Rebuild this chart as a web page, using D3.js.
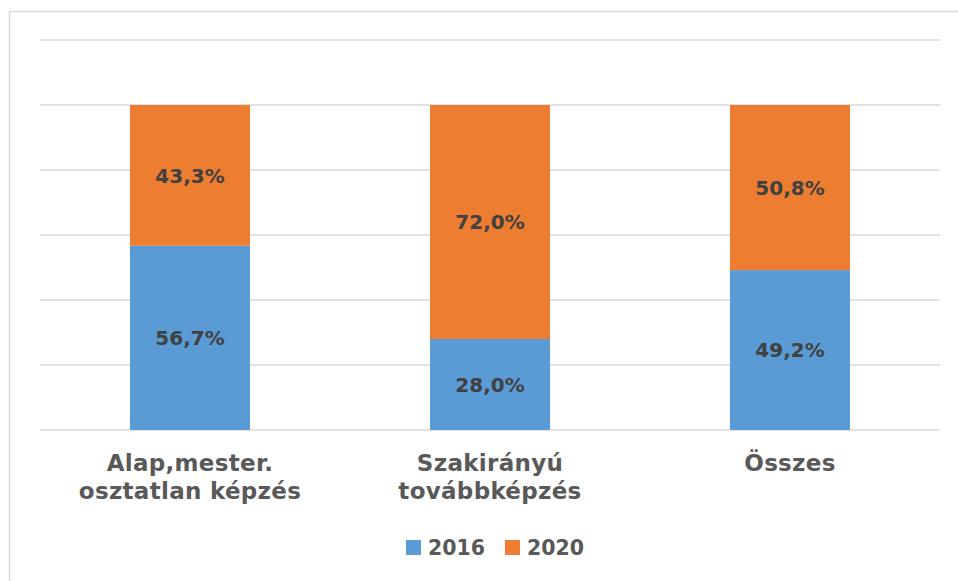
<!DOCTYPE html>
<html>
<head>
<meta charset="utf-8">
<script src="https://cdn.jsdelivr.net/npm/d3@7"></script>
<style>
  body { margin: 0; background: #fff; }
  text { font-family: "DejaVu Sans", Verdana, sans-serif; font-weight: bold; }
</style>
</head>
<body>
<div id="chart"></div>
<script>
// categories and series (share of participants, %)
let categories = [["Alap,mester.", "osztatlan képzés"], ["Szakirányú", "továbbképzés"], ["Összes"]];
let values2016 = [56.7, 28.0, 49.2];
let values2020 = [43.3, 72.0, 50.8];
let seriesNames = ["2016", "2020"];
let seriesColors = ["#5b9bd5", "#ed7d31"];
let gridTicks = [0, 20, 40, 60, 80, 100, 120];

let width = 958, height = 581;
let plot = {left: 40, right: 940, top: 40, bottom: 430};

let svg = d3.select("#chart").append("svg")
    .attr("width", width)
    .attr("height", height);

// chart frame (only left + top visible in crop)
svg.append("rect")
    .attr("x", 9.5).attr("y", 11.5)
    .attr("width", 1000).attr("height", 1000)
    .attr("fill", "none")
    .attr("stroke", "#d9d9d9")
    .attr("stroke-width", 1.5);

let x = d3.scaleBand()
    .domain(d3.range(categories.length))
    .range([plot.left, plot.right])
    .paddingInner(0.6)
    .paddingOuter(0.3);

let y = d3.scaleLinear()
    .domain([0, 120])
    .range([plot.bottom, plot.top]);

// grid lines
svg.append("g").selectAll("line")
    .data(gridTicks)
    .enter().append("line")
    .attr("x1", plot.left).attr("x2", plot.right)
    .attr("y1", d => y(d)).attr("y2", d => y(d))
    .attr("stroke", "#d9d9d9")
    .attr("stroke-width", 1.5);

let rows = categories.map((c, i) => ({i: i, v: [values2016[i], values2020[i]]}));

rows.forEach(function (r) {
    let base = 0;
    r.v.forEach(function (v, s) {
        let y0 = y(base), y1 = y(base + v);
        svg.append("rect")
            .attr("x", x(r.i))
            .attr("y", y1)
            .attr("width", x.bandwidth())
            .attr("height", y0 - y1)
            .attr("fill", seriesColors[s]);
        svg.append("text")
            .attr("x", x(r.i) + x.bandwidth() / 2)
            .attr("y", (y0 + y1) / 2)
            .attr("dy", "0.36em")
            .attr("text-anchor", "middle")
            .attr("font-size", 20)
            .attr("fill", "#404040")
            .text(v.toFixed(1).replace(".", ",") + "%");
        base += v;
    });
});

// category labels
categories.forEach(function (lines, i) {
    let t = svg.append("text")
        .attr("text-anchor", "middle")
        .attr("font-size", 23)
        .attr("letter-spacing", 0.3)
        .attr("fill", "#595959");
    lines.forEach(function (l, k) {
        t.append("tspan")
            .attr("x", x(i) + x.bandwidth() / 2)
            .attr("y", 471 + k * 28)
            .text(l);
    });
});

// legend
let legend = [{x: 406}, {x: 505}];
legend.forEach(function (p, s) {
    svg.append("rect")
        .attr("x", p.x).attr("y", 540)
        .attr("width", 15).attr("height", 15)
        .attr("fill", seriesColors[s]);
    svg.append("text")
        .attr("x", p.x + 22).attr("y", 555)
        .attr("font-size", 20.5)
        .attr("fill", "#595959")
        .text(seriesNames[s]);
});
</script>
</body>
</html>
